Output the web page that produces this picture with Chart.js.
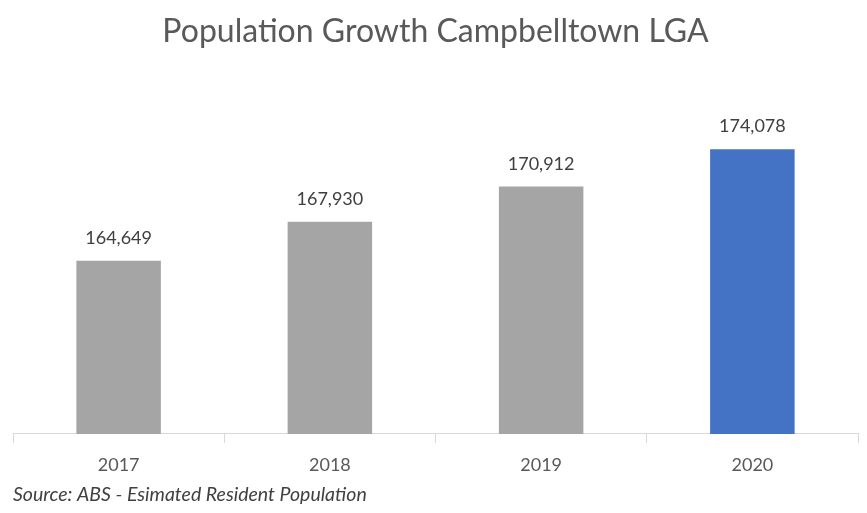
<!DOCTYPE html>
<html>
<head>
<meta charset="utf-8">
<script src="https://cdn.jsdelivr.net/npm/chart.js@4"></script>
<style>
  html, body { margin: 0; padding: 0; background: #fff; }
  #wrap { width: 867px; height: 513px; }
</style>
</head>
<body>
<div id="wrap"><canvas id="popChart"></canvas></div>
<script>
const years = ['2017', '2018', '2019', '2020'];
const population = [164649, 167930, 170912, 174078];
const barColors = ['#a5a5a5', '#a5a5a5', '#a5a5a5', '#4472c4'];

const FONT = 'Lato, "Open Sans", sans-serif';

// value labels above each bar
const valueLabels = {
  id: 'valueLabels',
  afterDatasetsDraw(chart) {
    const { ctx } = chart;
    const meta = chart.getDatasetMeta(0);
    ctx.save();
    ctx.font = `18px ${FONT}`;
    ctx.fillStyle = '#404040';
    ctx.textAlign = 'center';
    ctx.textBaseline = 'alphabetic';
    meta.data.forEach((bar, i) => {
      ctx.fillText(population[i].toLocaleString('en-US'), bar.x, bar.y - 17);
    });
    ctx.restore();
  }
};

new Chart(document.getElementById('popChart'), {
  type: 'bar',
  data: {
    labels: years,
    datasets: [{
      data: population,
      backgroundColor: barColors,
      barPercentage: 0.4,
      categoryPercentage: 1
    }]
  },
  options: {
    responsive: true,
    maintainAspectRatio: false,
    animation: false,
    layout: { padding: { left: 13, right: 9 } },
    plugins: {
      legend: { display: false },
      tooltip: { enabled: false },
      title: {
        display: true,
        text: 'Population Growth Campbelltown LGA',
        color: '#595959',
        font: { family: FONT, size: 32, weight: 'normal' },
        padding: { top: 12, bottom: 76 }
      },
      subtitle: {
        display: true,
        text: 'Source: ABS - Esimated Resident Population',
        position: 'bottom',
        align: 'start',
        color: '#404040',
        font: { family: FONT, size: 19.5, style: 'italic', lineHeight: 1 },
        padding: { top: -2, bottom: 9 }
      }
    },
    scales: {
      x: {
        offset: true,
        grid: {
          offset: true,
          drawOnChartArea: false,
          drawTicks: true,
          tickLength: 9,
          color: '#d9d9d9'
        },
        border: { color: '#d9d9d9', width: 1 },
        ticks: {
          color: '#595959',
          font: { family: FONT, size: 18 },
          padding: 11
        }
      },
      y: {
        display: false,
        min: 150000,
        max: 176000
      }
    }
  },
  plugins: [valueLabels]
});
</script>
</body>
</html>
